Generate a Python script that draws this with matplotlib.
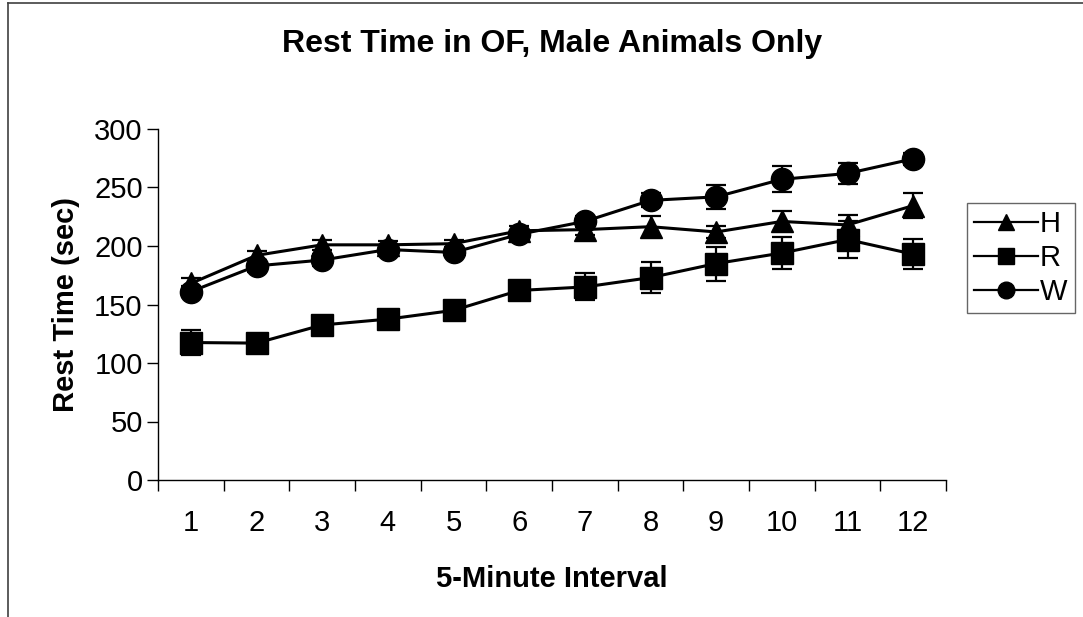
import matplotlib
matplotlib.use("Agg")
import matplotlib.pyplot as plt
from matplotlib.lines import Line2D
from matplotlib.ticker import FixedLocator

plt.rcParams["font.family"] = ["Liberation Sans", "DejaVu Sans"]

intervals = list(range(1, 13))
tick_labels = [str(i) for i in intervals]

h_rest = [168, 192, 201, 201, 202, 213, 214, 216.5, 212, 221, 218, 234.5]
h_err = [5, 4, 4, 3, 3, 4, 5, 9, 5, 8.5, 8.5, 10.5]
r_rest = [117.5, 117, 132.5, 137.5, 145, 162, 165, 173, 185, 194, 205.5, 193]
r_err = [11, 4, 4, 4, 4, 5, 11.5, 13.5, 14.5, 13.5, 15.5, 13]
w_rest = [161, 183, 188, 197, 194.5, 210, 221, 239, 242, 257, 262, 274.5]
w_err = [5, 5, 5, 4, 4, 4, 5, 6, 10, 11, 9, 5]

series = [
    ("H", h_rest, h_err, "^"),
    ("R", r_rest, r_err, "s"),
    ("W", w_rest, w_err, "o"),
]

fig = plt.figure(figsize=(10.83, 6.17), dpi=100)
ax = fig.add_axes([158 / 1083, 137 / 617, 788 / 1083, 351 / 617])

handles = []
for name, vals, err, mk in series:
    ax.errorbar(intervals, vals, yerr=err, fmt="none", ecolor="black",
                elinewidth=1.6, capsize=7, capthick=1.6, zorder=2)
    ax.plot(intervals, vals, color="black", lw=2.2, marker=mk,
            markersize=16, markerfacecolor="black",
            markeredgecolor="black", zorder=3, label=name)
    handles.append(Line2D([], [], color="black", lw=1.6, marker=mk,
                          markersize=12, label=name))

ax.set_xlim(0.5, 12.5)
ax.set_ylim(0, 300)
ax.set_yticks(range(0, 301, 50))
ax.set_xticks(intervals)
ax.set_xticklabels(tick_labels)
ax.xaxis.set_minor_locator(FixedLocator([i + 0.5 for i in range(0, 13)]))
ax.tick_params(axis="x", which="major", length=0, pad=21, labelsize=21)
ax.tick_params(axis="x", which="minor", length=8, width=1, direction="out")
ax.tick_params(axis="y", length=8, width=1, direction="out", pad=3,
               labelsize=21)

for side in ("top", "right"):
    ax.spines[side].set_visible(False)
for side in ("left", "bottom"):
    ax.spines[side].set_linewidth(1)

ax.set_xlabel("5-Minute Interval", fontsize=21, fontweight="bold", labelpad=20)
ax.set_ylabel("Rest Time (sec)", fontsize=21, fontweight="bold", labelpad=10)
fig.text(552 / 1083, 1 - 44 / 617, "Rest Time in OF, Male Animals Only",
         ha="center", va="center", fontsize=23, fontweight="bold")

leg = fig.legend(handles=handles, loc="upper left",
                 bbox_to_anchor=(967 / 1083, 1 - 203 / 617),
                 borderaxespad=0, fontsize=21, frameon=True, fancybox=False,
                 handlelength=2.2, handletextpad=0.05, labelspacing=0.2,
                 borderpad=0.25)
leg.get_frame().set_edgecolor("#404040")
leg.get_frame().set_linewidth(1)

# outer chart border (left and top edges)
fig.add_artist(Line2D([8 / 1083, 8 / 1083], [0, 1 - 3 / 617],
                      color="#404040", lw=1.2))
fig.add_artist(Line2D([8 / 1083, 1], [1 - 3 / 617, 1 - 3 / 617],
                      color="#404040", lw=1.2))

fig.savefig("out.png", dpi=100)
